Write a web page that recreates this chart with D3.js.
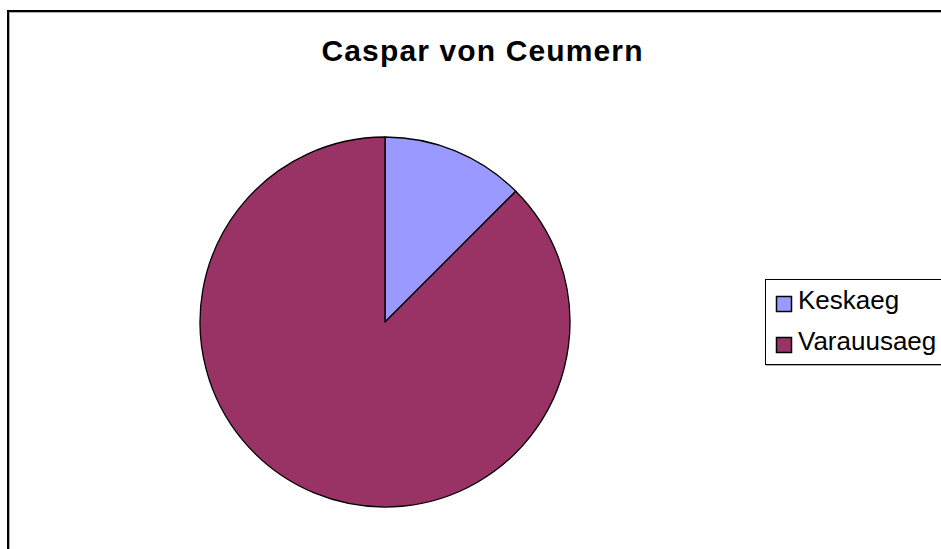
<!DOCTYPE html>
<html>
<head>
<meta charset="utf-8">
<script src="https://cdn.jsdelivr.net/npm/d3@7"></script>
<style>
  body { margin: 0; background: #fff; }
  svg { display: block; }
</style>
</head>
<body>
<div id="chart"></div>
<script>
// data
const title = "Caspar von Ceumern";
const categories = ["Keskaeg", "Varauusaeg"];
const values = [1, 7];
const colors = ["#9999FF", "#993366"];

const width = 941, height = 549;
const svg = d3.select("#chart").append("svg")
    .attr("width", width).attr("height", height);

// chart frame (runs off the right and bottom edge)
svg.append("rect")
    .attr("x", 9.5).attr("y", 12.5)
    .attr("width", 1000).attr("height", 600)
    .attr("fill", "none").attr("stroke", "#b0b0b0").attr("stroke-width", 1);
svg.append("rect")
    .attr("x", 8).attr("y", 11)
    .attr("width", 1000).attr("height", 600)
    .attr("fill", "none").attr("stroke", "#000").attr("stroke-width", 2);

svg.append("text")
    .attr("x", 482).attr("y", 61)
    .attr("text-anchor", "middle")
    .attr("font-family", "Liberation Sans, Arial, sans-serif")
    .attr("font-weight", "bold")
    .attr("font-size", 30)
    .attr("textLength", 321)
    .attr("lengthAdjust", "spacing")
    .text(title);

// pie
const cx = 385, cy = 322, r = 185;
const pie = d3.pie().sort(null).value(d => d);
const arc = d3.arc().innerRadius(0).outerRadius(r);
const color = d3.scaleOrdinal().domain(categories).range(colors);

const g = svg.append("g").attr("transform", "translate(" + cx + "," + cy + ")");
g.selectAll("path")
    .data(pie(values))
  .enter().append("path")
    .attr("d", arc)
    .attr("fill", (d, i) => color(categories[i]))
    .attr("stroke", "#000")
    .attr("stroke-width", 1.3)
    .attr("stroke-linejoin", "round");

// legend
const legend = svg.append("g");
legend.append("rect")
    .attr("x", 765.5).attr("y", 279.5)
    .attr("width", 200).attr("height", 85)
    .attr("fill", "#fff").attr("stroke", "#000").attr("stroke-width", 1);
legend.append("line")
    .attr("x1", 766).attr("x2", 966).attr("y1", 365.5).attr("y2", 365.5)
    .attr("stroke", "#b0b0b0");

const rowY = d3.scalePoint().domain(categories).range([309, 350]);
const item = legend.selectAll("g.item")
    .data(categories)
  .enter().append("g")
    .attr("class", "item")
    .attr("transform", d => "translate(0," + rowY(d) + ")");
item.append("rect")
    .attr("x", 776.5).attr("y", -12.5)
    .attr("width", 15).attr("height", 15)
    .attr("fill", d => color(d))
    .attr("stroke", "#000").attr("stroke-width", 1.5);
item.append("text")
    .attr("x", 798).attr("y", 0)
    .attr("font-family", "Liberation Sans, Arial, sans-serif")
    .attr("font-size", 26)
    .text(d => d);
</script>
</body>
</html>
